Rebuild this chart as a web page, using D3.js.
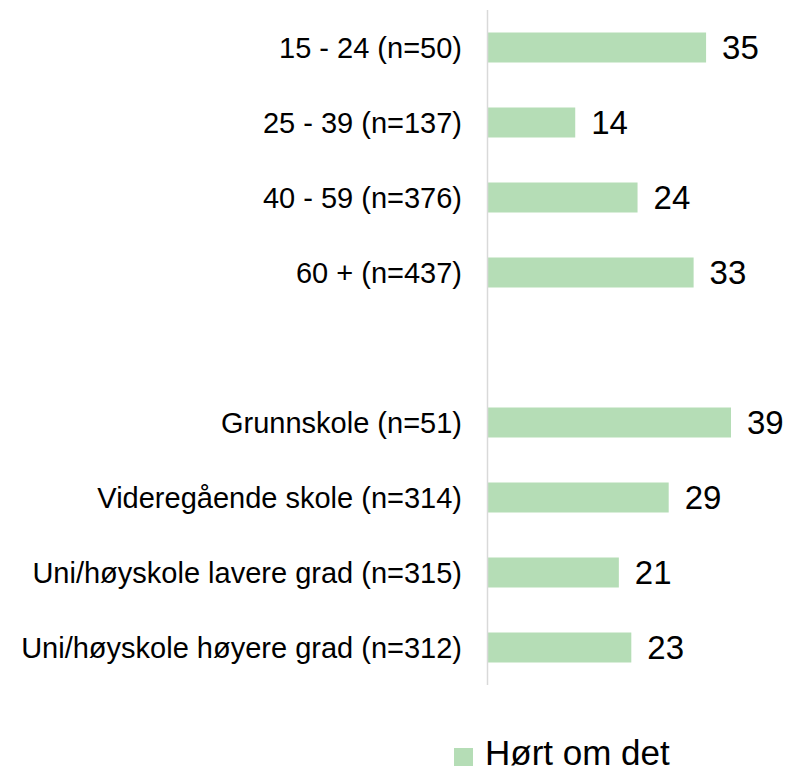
<!DOCTYPE html>
<html>
<head>
<meta charset="utf-8">
<script src="https://cdn.jsdelivr.net/npm/d3@7"></script>
<style>
  body { margin: 0; background: #fff; }
  svg { display: block; font-family: "Liberation Sans", Arial, sans-serif; }
</style>
</head>
<body>
<div id="chart"></div>
<script>
// data
const categories = [
    "15 - 24 (n=50)",
    "25 - 39 (n=137)",
    "40 - 59 (n=376)",
    "60 + (n=437)",
    "",
    "Grunnskole (n=51)",
    "Videregående skole (n=314)",
    "Uni/høyskole lavere grad (n=315)",
    "Uni/høyskole høyere grad (n=312)"
];
const values = [35, 14, 24, 33, null, 39, 29, 21, 23];
const seriesName = "Hørt om det";

const width = 789, height = 771;
const axisX = 488;
const barColor = "#b5ddb6";

const svg = d3.select("#chart").append("svg")
    .attr("width", width)
    .attr("height", height);

const x = d3.scaleLinear()
    .domain([0, 39])
    .range([axisX, 731]);

const y = d3.scaleBand()
    .domain(d3.range(categories.length))
    .range([10, 685])
    .paddingInner(0.6)
    .paddingOuter(0.3);

// bars
const rows = categories.map((c, i) => ({ label: c, value: values[i], i: i }));

svg.selectAll("rect.bar")
    .data(rows.filter(d => d.value != null))
    .enter().append("rect")
    .attr("class", "bar")
    .attr("x", x(0))
    .attr("y", d => y(d.i))
    .attr("width", d => x(d.value) - x(0))
    .attr("height", y.bandwidth())
    .attr("fill", barColor);

// value labels
svg.selectAll("text.val")
    .data(rows.filter(d => d.value != null))
    .enter().append("text")
    .attr("class", "val")
    .attr("x", d => x(d.value) + 16)
    .attr("y", d => y(d.i) + y.bandwidth() / 2)
    .attr("dy", "0.36em")
    .attr("font-size", 33)
    .attr("fill", "#000")
    .text(d => d.value);

// category labels
svg.selectAll("text.cat")
    .data(rows.filter(d => d.label !== ""))
    .enter().append("text")
    .attr("class", "cat")
    .attr("x", axisX - 26)
    .attr("y", d => y(d.i) + y.bandwidth() / 2)
    .attr("dy", "0.36em")
    .attr("text-anchor", "end")
    .attr("font-size", 29)
    .attr("fill", "#000")
    .text(d => d.label);

// axis line
svg.append("line")
    .attr("x1", axisX - 0.5).attr("x2", axisX - 0.5)
    .attr("y1", 10).attr("y2", 685)
    .attr("stroke", "#d9d9d9")
    .attr("stroke-width", 1.5);

// legend
const legend = svg.append("g").attr("transform", "translate(454,748)");
legend.append("rect")
    .attr("width", 19).attr("height", 18)
    .attr("fill", barColor);
legend.append("text")
    .attr("x", 31)
    .attr("y", 17)
    .attr("font-size", 35)
    .attr("fill", "#000")
    .text(seriesName);
</script>
</body>
</html>
